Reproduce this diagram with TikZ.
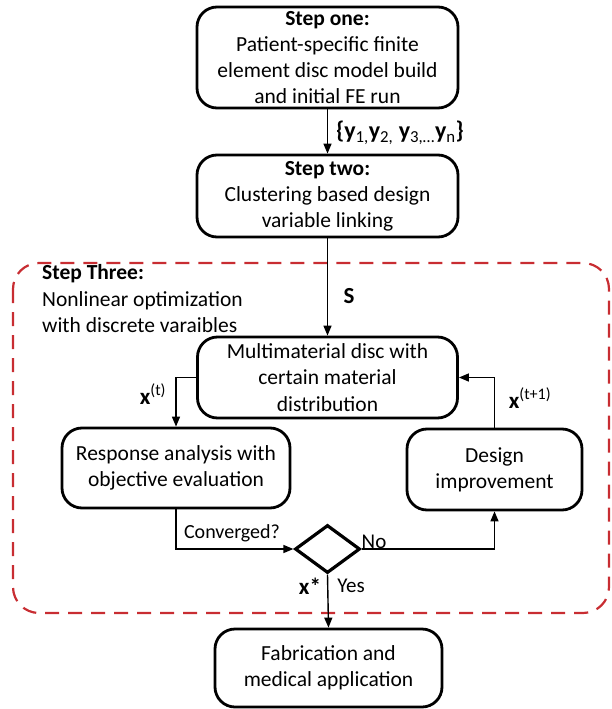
\documentclass[tikz,border=0pt]{standalone}
\usepackage{fontspec}
\setmainfont{Carlito}
\usetikzlibrary{arrows.meta,shapes.geometric}
\definecolor{dashred}{RGB}{200,45,50}
\begin{document}
\begin{tikzpicture}[x=1pt,y=-1pt,
  box/.style={draw,line width=2.8pt,rounded corners=20pt,align=center,inner sep=0pt,
    font=\fontsize{21.5}{26}\selectfont},
  conn/.style={line width=1.4pt,-{Triangle[length=10pt,width=8pt]}},
  lab/.style={inner sep=0pt,font=\fontsize{21}{24}\selectfont}]
\useasboundingbox (0,0) rectangle (611,709);
\draw[dashred,line width=2.2pt,dash pattern=on 14pt off 9pt,rounded corners=26pt]
  (13,263) rectangle (609,613);

\node[box,minimum width=261pt,minimum height=101pt] (one) at (327.5,57.5)
  {\textbf{Step one:}\\Patient-specific finite\\element disc model build\\and initial FE run};
\node[box,minimum width=261pt,minimum height=82pt] (two) at (327.5,196)
  {\textbf{Step two:}\\Clustering based design\\variable linking};
\node[box,minimum width=260pt,minimum height=81pt,font=\fontsize{21.5}{26.5}\selectfont] (multi) at (327.5,377.5)
  {Multimaterial disc with\\certain material\\distribution};
\node[box,minimum width=228pt,minimum height=80pt] (resp) at (176,468)
  {Response analysis with\\objective evaluation};
\node[box,minimum width=175pt,minimum height=81pt] (design) at (494.5,469.5)
  {Design\\improvement};
\node[draw,diamond,line width=3.2pt,inner sep=0pt,minimum width=65pt,minimum height=48pt] (dia) at (327.5,549) {};
\node[box,minimum width=227pt,minimum height=78pt] (fab) at (328.5,668)
  {Fabrication and\\medical application};

\node[lab,anchor=west,align=left,font=\fontsize{21.5}{26.5}\selectfont] (three) at (42,299)
  {\textbf{Step Three:}\\Nonlinear optimization\\with discrete varaibles};

\node[lab,font=\fontsize{24}{26}\selectfont] (ylab) at (400,133)
  {\textbf{\{y}\textsubscript{1,}\textbf{y}\textsubscript{2,} \textbf{y}\textsubscript{3,\dots}\textbf{y}\textsubscript{n}\textbf{\}}};
\node[lab,font=\fontsize{23}{26}\selectfont\bfseries] (slab) at (349,296) {S};
\node[lab,font=\fontsize{23}{26}\selectfont] (xt) at (153,394) {\textbf{x}\textsuperscript{(t)}};
\node[lab,font=\fontsize{23}{26}\selectfont] (xt1) at (530,398) {\textbf{x}\textsuperscript{(t+1)}};
\node[lab,font=\fontsize{20}{22}\selectfont] (conv) at (232,533) {Converged?};
\node[lab] (no) at (374,542) {No};
\node[lab,font=\fontsize{23}{26}\selectfont] (xs) at (310,586) {\textbf{x*}};
\node[lab] (yes) at (351,586) {Yes};

\draw[conn] (one.south) -- (two.north);
\draw[conn] (two.south) -- (multi.north);
\draw[conn] (multi.west) -| (resp.north);
\draw[conn] (design.north) |- (multi.east);
\draw[conn] (resp.south) |- (dia.west);
\draw[conn] (dia.east) -| (design.south);
\draw[conn] (dia.south) -- (fab.north);
\end{tikzpicture}
\end{document}
